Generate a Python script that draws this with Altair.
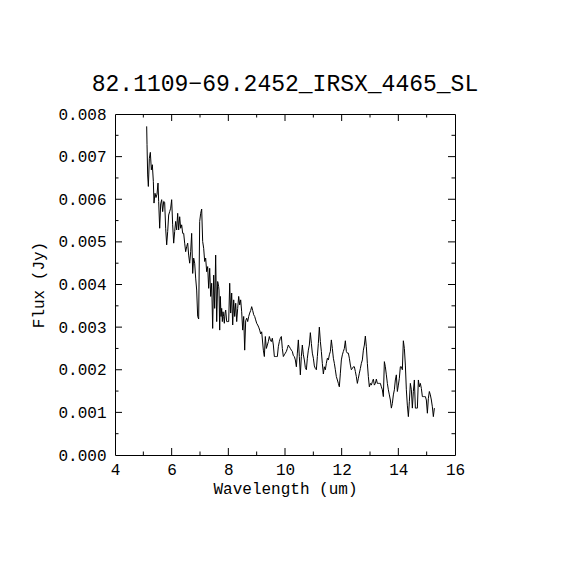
import altair as alt
import pandas as pd

title_text = "82.1109\u221269.2452_IRSX_4465_SL"

wavelength_um = [
    5.118, 5.130, 5.153, 5.177, 5.212, 5.247, 5.283, 5.318, 5.353, 5.377,
    5.412, 5.447, 5.483, 5.518, 5.541, 5.577, 5.612, 5.647, 5.683, 5.718,
    5.753, 5.788, 5.824, 5.859, 5.894, 5.930, 5.965, 6.000, 6.035, 6.071,
    6.106, 6.141, 6.177, 6.212, 6.247, 6.283, 6.318, 6.353, 6.389, 6.424,
    6.459, 6.494, 6.530, 6.565, 6.600, 6.636, 6.671, 6.706, 6.742, 6.777,
    6.812, 6.847, 6.883, 6.918, 6.953, 6.989, 7.024, 7.059, 7.094, 7.130,
    7.165, 7.200, 7.236, 7.271, 7.306, 7.342, 7.377, 7.412, 7.447, 7.483,
    7.518, 7.553, 7.589, 7.624, 7.659,
    7.671, 7.695, 7.718, 7.742, 7.765, 7.789, 7.812, 7.836, 7.859, 7.883,
    7.907, 7.942, 7.977, 8.012, 8.048, 8.083, 8.118, 8.154, 8.189, 8.224,
    8.260, 8.295, 8.330, 8.365, 8.401, 8.436, 8.471, 8.507, 8.542, 8.577,
    8.612, 8.648, 8.683, 8.718, 8.754, 8.789, 8.824, 8.860, 8.895, 8.930,
    8.965, 9.001, 9.036, 9.071, 9.107, 9.142,
    9.177, 9.236, 9.271, 9.306, 9.342, 9.377, 9.412, 9.447, 9.483, 9.518,
    9.553, 9.589, 9.624, 9.659, 9.695, 9.730, 9.765, 9.800, 9.836, 9.871,
    9.906, 9.942, 9.977, 10.012, 10.048, 10.083, 10.118, 10.153, 10.189, 10.224,
    10.259, 10.295, 10.330, 10.365, 10.401, 10.436, 10.471, 10.506, 10.542, 10.577,
    10.612, 10.648, 10.683, 10.718, 10.754, 10.789, 10.824, 10.859, 10.895, 10.930,
    10.965, 11.001, 11.036, 11.071, 11.107, 11.142, 11.177, 11.212, 11.248, 11.283,
    11.318, 11.354, 11.389, 11.424, 11.459, 11.495, 11.530, 11.565, 11.601, 11.636,
    11.671, 11.707, 11.742, 11.777, 11.812, 11.848, 11.883, 11.918, 11.954, 11.989,
    12.024, 12.060, 12.095, 12.130, 12.165, 12.201, 12.236, 12.271, 12.307, 12.342,
    12.377, 12.413, 12.448, 12.483, 12.518, 12.554, 12.589, 12.624, 12.660, 12.695,
    12.730, 12.766, 12.801, 12.836, 12.871, 12.907, 12.942, 12.977, 13.013, 13.048,
    13.083, 13.119, 13.154, 13.189, 13.224, 13.260, 13.295, 13.330, 13.366, 13.401,
    13.436, 13.471, 13.507, 13.542, 13.577, 13.613, 13.648, 13.683, 13.719, 13.754,
    13.789, 13.824, 13.860, 13.895, 13.930, 13.966, 14.001, 14.036, 14.071, 14.107,
    14.142, 14.177, 14.213, 14.248, 14.283, 14.318, 14.354, 14.389, 14.424, 14.460,
    14.495, 14.530, 14.566, 14.601, 14.636, 14.672, 14.707, 14.742, 14.777, 14.813,
    14.848, 14.883, 14.919, 14.954, 14.989, 15.025, 15.060, 15.095, 15.130, 15.166,
    15.201, 15.236, 15.272,
]

flux_mjy = [
    7.71, 7.28, 6.57, 6.30, 6.96, 7.10, 6.69, 6.81, 6.42, 5.91,
    6.14, 6.04, 6.12, 6.38, 5.95, 5.32, 5.89, 5.99, 5.71, 5.95,
    5.93, 5.32, 4.93, 5.24, 5.63, 5.71, 5.79, 5.99, 5.40, 4.97,
    5.24, 5.48, 5.28, 5.67, 5.28, 5.59, 5.32, 5.40, 5.20, 5.20,
    4.97, 4.77, 4.89, 4.97, 4.69, 4.50, 4.77, 5.20, 4.26, 4.62,
    4.50, 4.15, 3.87, 3.25, 3.19, 5.48, 5.67, 5.77, 5.01, 4.85,
    4.54, 4.62, 4.30, 4.42, 3.91, 4.38, 3.72, 4.03, 2.97, 4.22,
    3.44, 4.69, 3.13, 4.07, 3.95,
    3.87, 2.93, 3.72, 3.25, 3.44, 3.13, 3.36, 3.25, 3.09, 3.33,
    3.40, 3.13, 3.13, 3.13, 4.03, 3.33, 3.80, 3.05, 3.64, 3.25,
    3.56, 3.13, 3.44, 3.72, 3.52, 3.64, 3.36, 2.93, 3.25, 2.46,
    3.15, 3.21, 3.13, 3.25, 3.33, 3.39, 3.48, 3.39, 3.29, 3.25,
    3.17, 3.09, 3.05, 3.00, 2.93, 2.84,
    2.89, 2.46, 2.31, 2.78, 2.50, 2.58, 2.66, 2.78, 2.70, 2.66,
    2.74, 2.58, 2.31, 2.31, 2.31, 2.31, 2.54, 2.66, 2.74, 2.78,
    2.50, 2.31, 2.35, 2.39, 2.43, 2.50, 2.58, 2.54, 2.50, 2.46,
    2.43, 2.33, 2.31, 2.23, 2.07, 2.39, 2.70, 2.31, 1.88, 2.31,
    2.58, 2.35, 2.23, 2.05, 2.00, 2.27, 2.46, 2.58, 2.87, 2.62,
    2.39, 2.27, 2.09, 2.03, 2.00, 2.31, 2.62, 3.00, 2.66, 2.43,
    2.15, 1.90, 2.07, 2.00, 2.15, 2.27, 2.23, 2.35, 2.43, 2.70,
    2.50, 2.27, 2.15, 2.00, 1.84, 1.76, 1.68, 1.60, 1.92, 2.23,
    2.35, 2.43, 2.50, 2.68, 2.43, 2.39, 2.39, 2.27, 2.11, 2.00,
    2.03, 2.07, 2.07, 1.96, 1.84, 1.68, 1.80, 1.92, 2.03, 2.15,
    2.23, 2.46, 2.58, 2.79, 2.54, 2.15, 1.84, 1.60, 1.68, 1.64,
    1.72, 1.78, 1.64, 1.68, 1.78, 1.68, 1.68, 1.68, 1.68, 1.60,
    1.53, 1.37, 2.19, 2.07, 1.88, 1.68, 1.53, 1.41, 1.29, 1.10,
    1.21, 1.41, 1.53, 1.76, 1.88, 1.49, 1.64, 1.80, 2.07, 2.07,
    2.00, 2.68, 2.50, 2.11, 1.53, 1.17, 0.90, 1.25, 1.68, 1.53,
    1.10, 1.49, 1.76, 1.10, 1.10, 1.10, 1.76, 1.60, 1.68, 1.56,
    1.37, 1.37, 1.37, 1.37, 1.29, 0.98, 1.33, 1.49, 1.41, 1.29,
    1.13, 0.90, 1.10,
]

x_labels = [4, 6, 8, 10, 12, 14, 16]
y_labels = [0.000, 0.001, 0.002, 0.003, 0.004, 0.005, 0.006, 0.007, 0.008]
x_major = [6, 8, 10, 12, 14]
x_minor = [5, 7, 9, 11, 13, 15]
y_major = [0.001, 0.002, 0.003, 0.004, 0.005, 0.006, 0.007]
y_minor = [0.0005, 0.0015, 0.0025, 0.0035, 0.0045, 0.0055, 0.0065, 0.0075]

W, H = 340, 341
MAJ, MIN = 7, 3.5
FONT = "Liberation Mono"

spec = pd.DataFrame({"wavelength": wavelength_um,
                     "flux": [f / 1000.0 for f in flux_mjy]})

xs = alt.Scale(domain=[4, 16], nice=False, zero=False)
ys = alt.Scale(domain=[0, 0.008], nice=False, zero=False)

x_axis = alt.Axis(values=x_labels, format="d", title="Wavelength (um)",
                  ticks=False, domain=False, grid=False, labelPadding=6,
                  titlePadding=3, labelFlush=False, labelOverlap=False)
y_axis = alt.Axis(values=y_labels, format=".3f", title="Flux (Jy)",
                  ticks=False, domain=False, grid=False, labelPadding=9,
                  titlePadding=11, labelFlush=False, labelOverlap=False)

line = alt.Chart(spec).mark_line(color="black", strokeWidth=1, clip=True).encode(
    x=alt.X("wavelength:Q", scale=xs, axis=x_axis),
    y=alt.Y("flux:Q", scale=ys, axis=y_axis),
)


def xticks(vals, y0, y1):
    return alt.Chart(pd.DataFrame({"v": vals})).mark_rule(color="black", strokeWidth=1).encode(
        x=alt.X("v:Q", scale=xs, axis=x_axis), y=alt.value(y0), y2=alt.value(y1))


def yticks(vals, x0, x1):
    return alt.Chart(pd.DataFrame({"v": vals})).mark_rule(color="black", strokeWidth=1).encode(
        y=alt.Y("v:Q", scale=ys, axis=y_axis), x=alt.value(x0), x2=alt.value(x1))


layers = [
    line,
    xticks(x_major, H, H - MAJ), xticks(x_minor, H, H - MIN),
    xticks(x_major, 0, MAJ), xticks(x_minor, 0, MIN),
    yticks(y_major, 0, MAJ), yticks(y_minor, 0, MIN),
    yticks(y_major, W, W - MAJ), yticks(y_minor, W, W - MIN),
]

chart = alt.layer(*layers).properties(
    width=W, height=H,
    title=alt.TitleParams(title_text, font=FONT, fontSize=23, fontWeight="normal",
                          color="black", anchor="middle", frame="group",
                          baseline="alphabetic", offset=2, dy=10),
    autosize=alt.AutoSizeParams(type="none"),
    padding={"left": 107, "top": 106, "right": 107, "bottom": 107},
    background="white",
).configure_view(stroke="black", strokeWidth=1).configure_axis(
    labelFont=FONT, labelFontSize=16, labelColor="black",
    titleFont=FONT, titleFontSize=16, titleFontWeight="normal", titleColor="black",
)

chart.save("out.html", embed_options={"renderer": "svg", "actions": False})
